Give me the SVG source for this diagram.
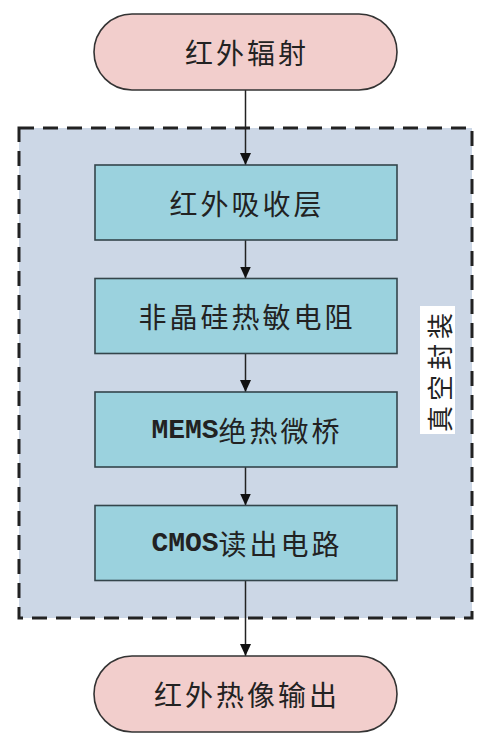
<svg xmlns="http://www.w3.org/2000/svg" width="497" height="738" viewBox="0 0 497 738">
<style>
.term{fill:#f2cecc;stroke:#333;stroke-width:1.6}
.box{fill:#9bd2de;stroke:#34454b;stroke-width:1.6}
.t{font-family:"Noto Sans CJK SC","Noto Sans",sans-serif;font-size:28px;fill:#222;text-anchor:middle;dominant-baseline:central;letter-spacing:3px}
.m{font-family:"Liberation Mono",monospace;font-weight:bold;letter-spacing:0}
.conn{stroke:#222;stroke-width:1.5;fill:none}
</style>
<defs>
<marker id="ah" markerWidth="13" markerHeight="11" refX="12" refY="5.5" orient="auto" markerUnits="userSpaceOnUse">
<path d="M0,0 L12,5.5 L0,11 Z" fill="#111"/>
</marker>
</defs>
<rect width="497" height="738" fill="#fff"/>
<g id="vacuum">
<rect x="19" y="128" width="453" height="490" fill="#ccd7e6" stroke="#222" stroke-width="3" stroke-dasharray="15 9"/>
<rect x="420" y="306" width="35" height="128" fill="#fff"/>
<text class="t" transform="translate(438,370) rotate(-90)" style="font-size:26px;letter-spacing:5px">真空封装</text>
</g>
<g id="connectors">
<line class="conn" x1="245.5" y1="90" x2="245.5" y2="165" marker-end="url(#ah)"/>
<line class="conn" x1="245.5" y1="240" x2="245.5" y2="278.5" marker-end="url(#ah)"/>
<line class="conn" x1="245.5" y1="353.5" x2="245.5" y2="392" marker-end="url(#ah)"/>
<line class="conn" x1="245.5" y1="467" x2="245.5" y2="505.5" marker-end="url(#ah)"/>
<line class="conn" x1="245.5" y1="580.5" x2="245.5" y2="656" marker-end="url(#ah)"/>
</g>
<g id="n_ir">
<rect class="term" x="94" y="14" width="303" height="76" rx="38"/>
<text class="t" x="247" y="52">红外辐射</text>
</g>
<g id="n_absorb">
<rect class="box" x="95" y="165" width="302" height="75"/>
<text class="t" x="247" y="202.5">红外吸收层</text>
</g>
<g id="n_resistor">
<rect class="box" x="95" y="278.5" width="302" height="75"/>
<text class="t" x="247" y="316">非晶硅热敏电阻</text>
</g>
<g id="n_mems">
<rect class="box" x="95" y="392" width="302" height="75"/>
<text class="t" x="247" y="429.5"><tspan class="m">MEMS</tspan>绝热微桥</text>
</g>
<g id="n_cmos">
<rect class="box" x="95" y="505.5" width="302" height="75"/>
<text class="t" x="247" y="543"><tspan class="m">CMOS</tspan>读出电路</text>
</g>
<g id="n_out">
<rect class="term" x="94" y="656" width="303" height="76" rx="38"/>
<text class="t" x="247" y="694">红外热像输出</text>
</g>
</svg>
